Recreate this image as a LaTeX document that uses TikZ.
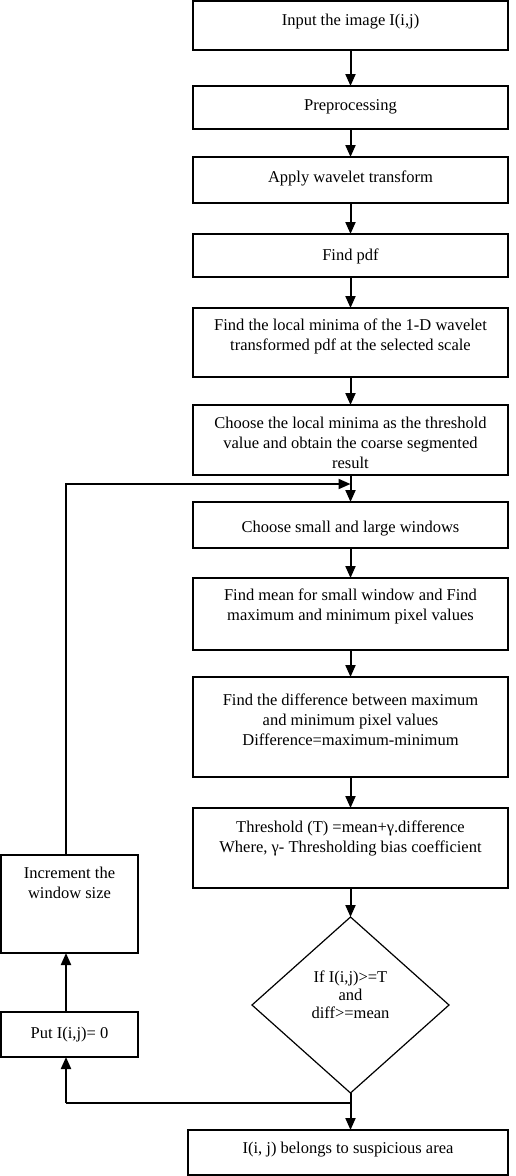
\documentclass[tikz,border=0pt]{standalone}
\usepackage{fontspec}
\setmainfont{Liberation Serif}
\usetikzlibrary{shapes.geometric,arrows.meta}
\newcommand{\bxt}[4]{\parbox[t][#1][t]{#2}{\centering\rule{0pt}{#3}#4}}
\begin{document}
\begin{tikzpicture}[x=1pt,y=-1pt,
  bx/.style={draw, line width=2pt, inner sep=0pt, outer sep=0pt, anchor=north west,
    font=\fontsize{16.5}{20}\selectfont},
  dia/.style={diamond, draw, line width=1.2pt, inner sep=0pt, outer sep=0pt,
    minimum width=197pt, minimum height=176pt},
  arr/.style={line width=2pt, -{Triangle[length=12pt,width=10pt]}},
  ln/.style={line width=2pt}]
\useasboundingbox (0,0) rectangle (515,1176);
\node[bx] (b1) at (193,1) {\bxt{49pt}{315pt}{24pt}{Input the image I(i,j)}};
\node[bx] (b2) at (193,86) {\bxt{43pt}{315pt}{24pt}{Preprocessing}};
\node[bx] (b3) at (193,157) {\bxt{46pt}{315pt}{25pt}{Apply wavelet transform}};
\node[bx] (b4) at (193,234) {\bxt{43pt}{315pt}{26pt}{Find pdf}};
\node[bx] (b5) at (193,308) {\bxt{69pt}{315pt}{22pt}{Find the local minima of the 1-D wavelet\\transformed pdf at the selected scale}};
\node[bx] (b6) at (193,405) {\bxt{70pt}{315pt}{23pt}{Choose the local minima as the threshold\\value and obtain the coarse segmented\\result}};
\node[bx] (b7) at (193,502) {\bxt{46pt}{315pt}{30pt}{Choose small and large windows}};
\node[bx] (b8) at (193,578) {\bxt{72pt}{315pt}{22pt}{Find mean for small window and Find\\maximum and minimum pixel values}};
\node[bx] (b9) at (193,677) {\bxt{100pt}{315pt}{28pt}{Find the difference between maximum\\and minimum pixel values\\Difference=maximum-minimum}};
\node[bx] (b10) at (193,808) {\bxt{80pt}{315pt}{24pt}{Threshold (T) =mean+γ.difference\\Where, γ- Thresholding bias coefficient}};
\node[dia] (d) at (350.5,1005) {};
\node[align=center, font=\fontsize{16.5}{18}\selectfont] (dt) at (350.5,995) {If I(i,j)>=T\\and\\diff>=mean};
\node[bx] (fin) at (188,1130) {\bxt{45pt}{320pt}{23pt}{I(i, j) belongs to suspicious area}};
\node[bx] (inc) at (1,855) {\bxt{98pt}{137pt}{23pt}{Increment the\\window size}};
\node[bx] (put) at (1,1012) {\bxt{45pt}{137pt}{26pt}{Put I(i,j)= 0}};
\draw[arr] (b1.south) -- (b2.north);
\draw[arr] (b2.south) -- (b3.north);
\draw[arr] (b3.south) -- (b4.north);
\draw[arr] (b4.south) -- (b5.north);
\draw[arr] (b5.south) -- (b6.north);
\draw[arr] (b6.south) -- (b7.north);
\draw[arr] (b7.south) -- (b8.north);
\draw[arr] (b8.south) -- (b9.north);
\draw[arr] (b9.south) -- (b10.north);
\draw[arr] (b10.south) -- (d.north);
\draw[arr] (d.south) -- (d.south |- fin.north);
\coordinate (lp) at (66,484);
\coordinate (lj) at (350.5,484);
\draw[arr] (lp |- inc.north) -- (lp) -- (lj);
\coordinate (bj) at (350.5,1103);
\coordinate (bl) at (66,1103);
\draw[ln] (bj) -- (bl);
\draw[arr] (bl) -- (bl |- put.south);
\draw[arr] (bl |- put.north) -- (bl |- inc.south);
\end{tikzpicture}
\end{document}
